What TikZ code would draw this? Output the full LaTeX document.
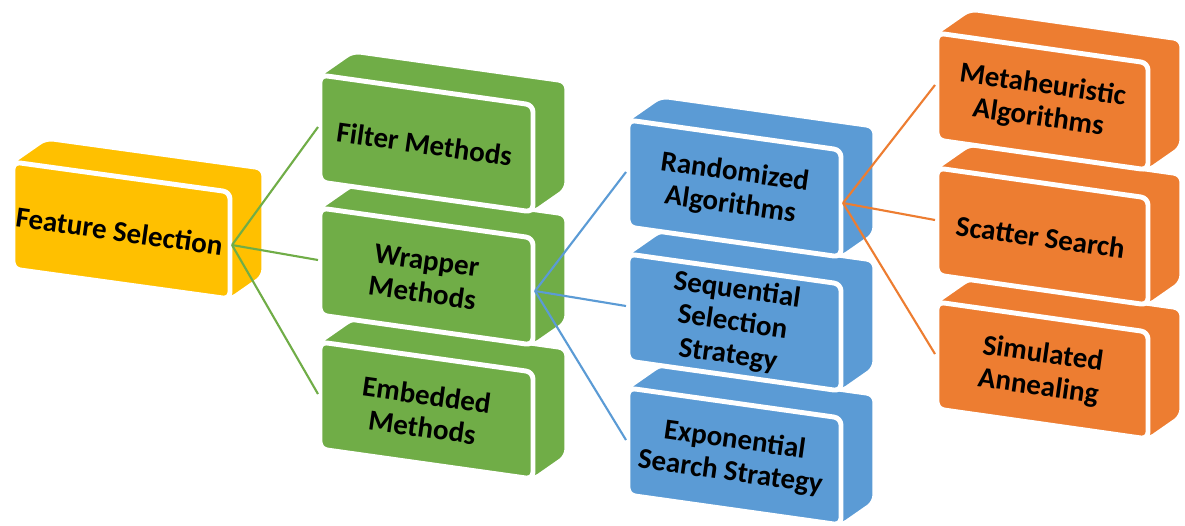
\documentclass[tikz,border=0pt]{standalone}
\usepackage{fontspec}
\setmainfont{Carlito}
\definecolor{fsY}{HTML}{FFC000}
\definecolor{fsG}{HTML}{70AD47}
\definecolor{fsB}{HTML}{5B9BD5}
\definecolor{fsO}{HTML}{ED7D31}
\tikzset{
  silh/.style={draw=white, line width=1.8pt, rounded corners=4pt, line join=round},
  face/.style={draw=white, line width=2.8pt, rounded corners=4pt, line join=round},
  lbl/.style={font=\bfseries\fontsize{16.5}{18.6}\selectfont, align=center, rotate=-8, text=black, inner sep=0pt},
  link/.style={line width=1.2pt},
}
% name, x, y, colour, width, text
\newcommand\fsbox[6]{%
  \begin{scope}[shift={(#2,#3)}]
    \path[silh, fill=#4] (0,0) -- (33,-23) -- (#5+33,7) -- (#5+33,114) -- (#5,137) -- (0,107) -- cycle;
    \path[face, fill=#4] (0,0) -- (#5,30) -- (#5,137) -- (0,107) -- cycle;
    \node[lbl] (#1) at (#5/2-2,69) {#6};
    \coordinate (#1-l) at (-2,52);
    \coordinate (#1-r) at (#5+2,83);
  \end{scope}}
\begin{document}
\begin{tikzpicture}[x=0.02cm, y=-0.02cm]
  \clip (0,0) rectangle (1185,525);
  \fill[white] (0,0) rectangle (1185,525);
  % column 1
  \fsbox{fs}{13}{162}{fsY}{217}{Feature Selection}
  % column 2 (bottom first)
  \fsbox{emb}{320}{342}{fsG}{213}{Embedded\\Methods}
  \fsbox{wrap}{320}{208}{fsG}{213}{Wrapper\\Methods}
  \fsbox{filt}{320}{75}{fsG}{213}{Filter Methods}
  % column 3
  \fsbox{expo}{628}{388}{fsB}{213}{Exponential\\Search Strategy}
  \fsbox{seq}{628}{254}{fsB}{213}{Sequential\\Selection\\Strategy}
  \fsbox{rand}{628}{120}{fsB}{213}{Randomized\\Algorithms}
  % column 4
  \fsbox{sim}{937}{302}{fsO}{211}{Simulated\\Annealing}
  \fsbox{scat}{937}{168}{fsO}{211}{Scatter Search}
  \fsbox{meta}{937}{33}{fsO}{211}{Metaheuristic\\Algorithms}
  % connectors
  \draw[link, fsG] (fs-r) -- (filt-l);
  \draw[link, fsG] (fs-r) -- (wrap-l);
  \draw[link, fsG] (fs-r) -- (emb-l);
  \draw[link, fsB] (wrap-r) -- (rand-l);
  \draw[link, fsB] (wrap-r) -- (seq-l);
  \draw[link, fsB] (wrap-r) -- (expo-l);
  \draw[link, fsO] (rand-r) -- (meta-l);
  \draw[link, fsO] (rand-r) -- (scat-l);
  \draw[link, fsO] (rand-r) -- (sim-l);
\end{tikzpicture}
\end{document}
